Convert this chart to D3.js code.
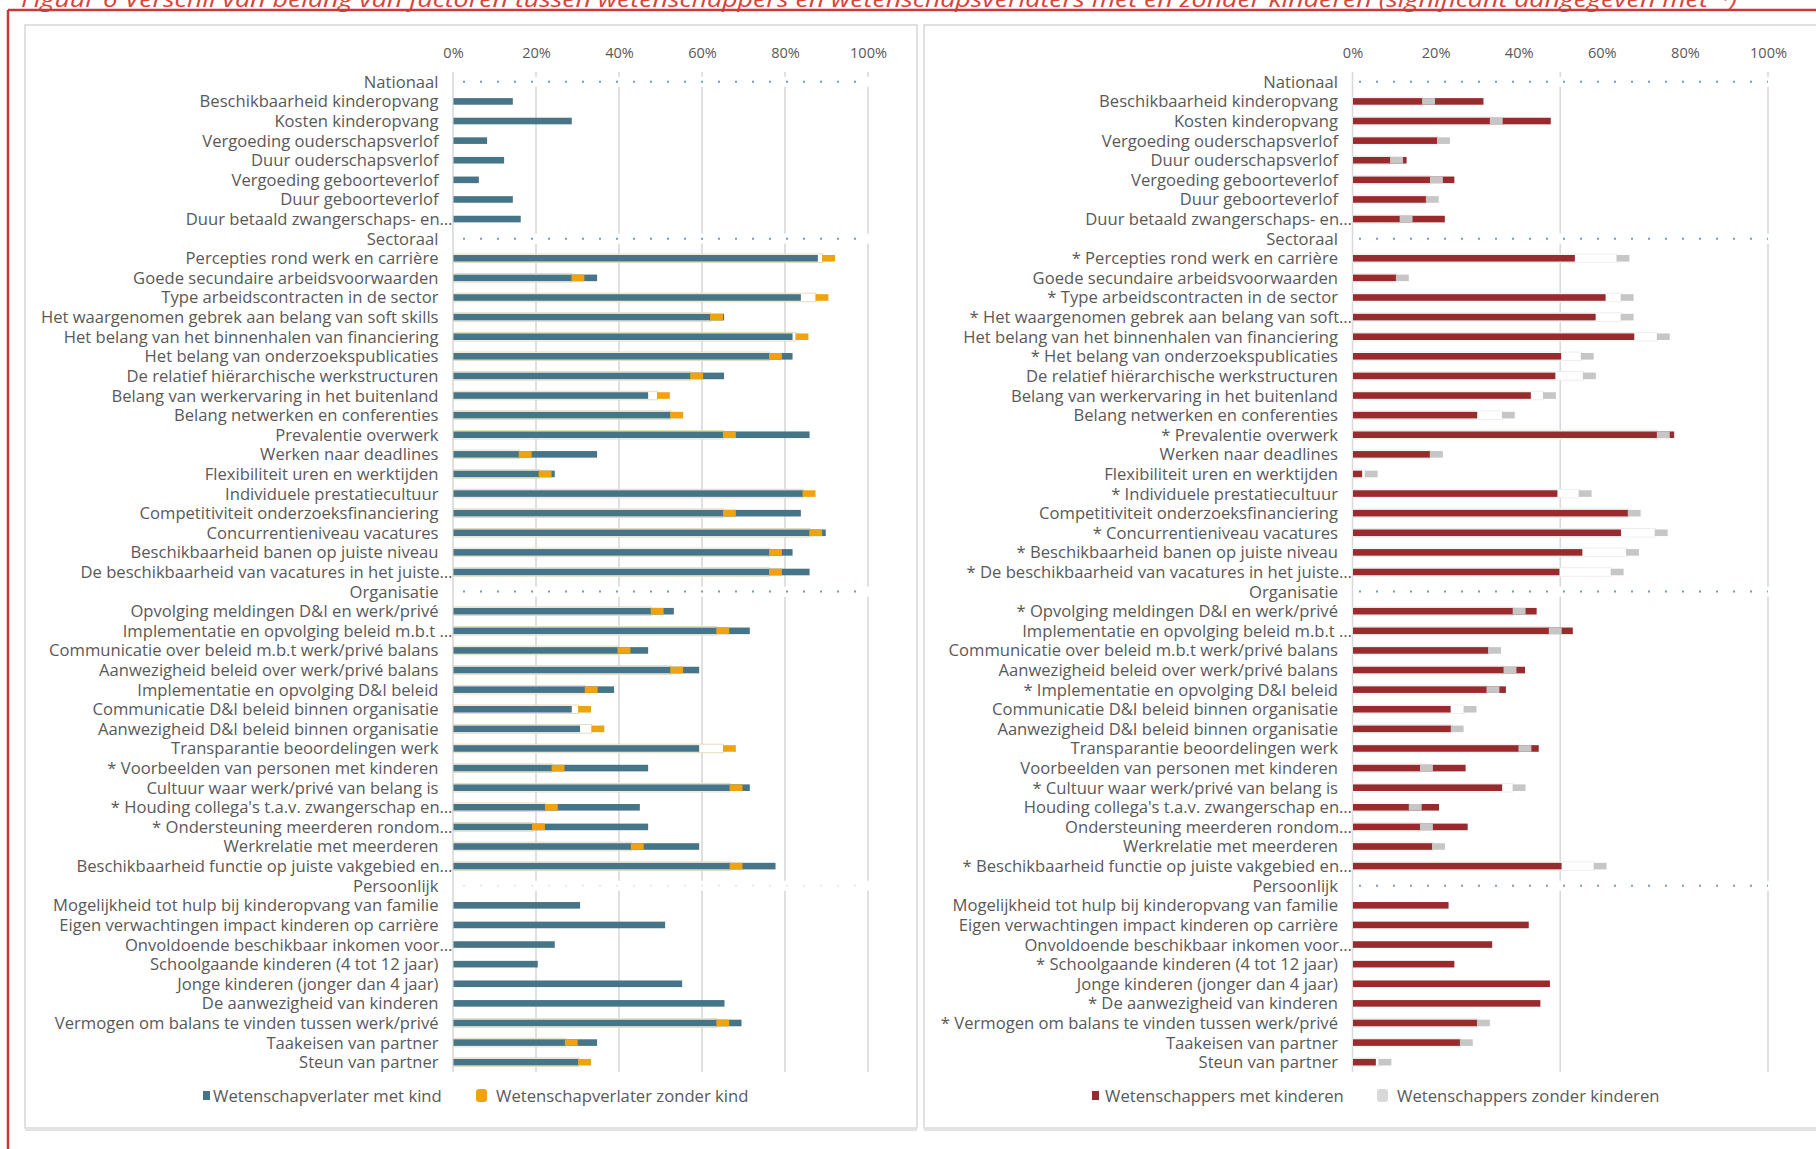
<!DOCTYPE html>
<html><head><meta charset="utf-8">
<script src="https://cdn.jsdelivr.net/npm/d3@7"></script>
<style>
body{margin:0;background:#fff;overflow:hidden}
svg{display:block}
text{font-family:"Open Sans","Noto Sans",sans-serif}
</style>
</head><body>
<svg id="c" width="1816" height="1149"></svg>
<script>
// ---------------- DATA ----------------
const titleText = "Figuur 6 Verschil van belang van factoren tussen wetenschappers en wetenschapsverlaters met en zonder kinderen (significant aangegeven met *)";
const headerRows = ["Nationaal","Sectoraal","Organisatie","Persoonlijk"];

const leftLabels = [
"Nationaal","Beschikbaarheid kinderopvang","Kosten kinderopvang","Vergoeding ouderschapsverlof","Duur ouderschapsverlof","Vergoeding geboorteverlof","Duur geboorteverlof","Duur betaald zwangerschaps- en…",
"Sectoraal","Percepties rond werk en carrière","Goede secundaire arbeidsvoorwaarden","Type arbeidscontracten in de sector","Het waargenomen gebrek aan belang van soft skills","Het belang van het binnenhalen van financiering","Het belang van onderzoekspublicaties","De relatief hiërarchische werkstructuren","Belang van werkervaring in het buitenland","Belang netwerken en conferenties","Prevalentie overwerk","Werken naar deadlines","Flexibiliteit uren en werktijden","Individuele prestatiecultuur","Competitiviteit onderzoeksfinanciering","Concurrentieniveau vacatures","Beschikbaarheid banen op juiste niveau","De beschikbaarheid van vacatures in het juiste…",
"Organisatie","Opvolging meldingen D&I en werk/privé","Implementatie en opvolging beleid m.b.t …","Communicatie over beleid m.b.t werk/privé balans","Aanwezigheid beleid over werk/privé balans","Implementatie en opvolging D&I beleid","Communicatie D&I beleid binnen organisatie","Aanwezigheid D&I beleid binnen organisatie","Transparantie beoordelingen werk","* Voorbeelden van personen met kinderen","Cultuur waar werk/privé van belang is","* Houding collega's t.a.v. zwangerschap en…","* Ondersteuning meerderen rondom…","Werkrelatie met meerderen","Beschikbaarheid functie op juiste vakgebied en…",
"Persoonlijk","Mogelijkheid tot hulp bij kinderopvang van familie","Eigen verwachtingen impact kinderen op carrière","Onvoldoende beschikbaar inkomen voor…","Schoolgaande kinderen (4 tot 12 jaar)","Jonge kinderen (jonger dan 4 jaar)","De aanwezigheid van kinderen","Vermogen om balans te vinden tussen werk/privé","Taakeisen van partner","Steun van partner"];

const rightLabels = [
"Nationaal","Beschikbaarheid kinderopvang","Kosten kinderopvang","Vergoeding ouderschapsverlof","Duur ouderschapsverlof","Vergoeding geboorteverlof","Duur geboorteverlof","Duur betaald zwangerschaps- en…",
"Sectoraal","* Percepties rond werk en carrière","Goede secundaire arbeidsvoorwaarden","* Type arbeidscontracten in de sector","* Het waargenomen gebrek aan belang van soft…","Het belang van het binnenhalen van financiering","* Het belang van onderzoekspublicaties","De relatief hiërarchische werkstructuren","Belang van werkervaring in het buitenland","Belang netwerken en conferenties","* Prevalentie overwerk","Werken naar deadlines","Flexibiliteit uren en werktijden","* Individuele prestatiecultuur","Competitiviteit onderzoeksfinanciering","* Concurrentieniveau vacatures","* Beschikbaarheid banen op juiste niveau","* De beschikbaarheid van vacatures in het juiste…",
"Organisatie","* Opvolging meldingen D&I en werk/privé","Implementatie en opvolging beleid m.b.t …","Communicatie over beleid m.b.t werk/privé balans","Aanwezigheid beleid over werk/privé balans","* Implementatie en opvolging D&I beleid","Communicatie D&I beleid binnen organisatie","Aanwezigheid D&I beleid binnen organisatie","Transparantie beoordelingen werk","Voorbeelden van personen met kinderen","* Cultuur waar werk/privé van belang is","Houding collega's t.a.v. zwangerschap en…","Ondersteuning meerderen rondom…","Werkrelatie met meerderen","* Beschikbaarheid functie op juiste vakgebied en…",
"Persoonlijk","Mogelijkheid tot hulp bij kinderopvang van familie","Eigen verwachtingen impact kinderen op carrière","Onvoldoende beschikbaar inkomen voor…","* Schoolgaande kinderen (4 tot 12 jaar)","Jonge kinderen (jonger dan 4 jaar)","* De aanwezigheid van kinderen","* Vermogen om balans te vinden tussen werk/privé","Taakeisen van partner","Steun van partner"];

// Wetenschapverlater met kind (%)
const leftMet = [null,14.3,28.5,8.1,12.2,6.1,14.3,16.2,
 null,87.8,34.6,83.7,65.2,81.7,81.7,65.2,46.9,52.3,85.8,34.6,24.4,84.2,83.7,89.7,81.7,85.8,
 null,53.1,71.4,46.9,59.2,38.7,28.5,30.5,59.2,46.9,71.4,44.9,46.9,59.2,77.6,
 null,30.5,51.0,24.4,20.3,55.1,65.3,69.4,34.6,30.1];
// Wetenschapverlater zonder kind (%)
const leftZonder = [null,null,null,null,null,null,null,null,
 null,90.5,30.1,88.9,63.5,84.1,77.7,58.7,50.7,53.9,66.6,17.4,22.2,85.8,66.6,87.4,77.7,77.7,
 null,49.2,65.0,41.2,53.9,33.3,31.7,34.9,66.6,25.3,68.2,23.7,20.6,44.4,68.2,
 null,null,null,null,null,null,null,65.0,28.5,31.7];
// Wetenschappers met kinderen (%)
const rightMet = [null,31.4,47.6,20.3,12.9,24.4,17.7,22.1,
 null,53.4,10.4,60.8,58.4,67.7,50.1,48.7,42.8,29.9,77.3,18.5,2.2,49.2,66.3,64.5,55.2,49.7,
 null,44.2,52.9,32.6,41.4,36.8,23.5,23.6,44.7,27.1,35.9,20.7,27.6,19.1,50.2,
 null,23.0,42.3,33.5,24.4,47.4,45.1,29.9,25.8,5.5];
// Wetenschappers zonder kinderen (%)
const rightZonder = [null,18.3,34.6,21.9,10.6,20.2,19.2,12.9,
 null,65.1,12.0,66.1,66.1,74.8,56.5,57.0,47.4,37.5,74.8,20.2,4.5,56.0,67.8,74.3,67.4,63.7,
 null,40.1,48.8,34.2,37.9,33.8,28.3,25.2,41.5,17.8,40.1,15.1,17.8,20.7,59.6,
 null,null,null,null,null,null,null,31.5,27.4,7.8];

const tickValues = [0,20,40,60,80,100];
const leftGridValues = [0,20,40,60,80,100];
const rightGridValues = [0,50,100];
const leftLegend = ["Wetenschapverlater met kind","Wetenschapverlater zonder kind"];
const rightLegend = ["Wetenschappers met kinderen","Wetenschappers zonder kinderen"];

// ---------------- DRAW ----------------
const svg = d3.select("#c");
const FONT = '"Open Sans","Noto Sans",sans-serif';
const textCol = "#595959";

function measure(str, size){
  const t = svg.append("text").attr("font-size",size).attr("font-family",FONT).text(str);
  const w = t.node().getComputedTextLength(); t.remove(); return w;
}
const labelSize = 16 * 253 / measure("Percepties rond werk en carrière", 16);
const legendSize = 16 * 229 / measure("Wetenschapverlater met kind", 16);
const tickSize = 16 * 37 / measure("100%", 16);

// title + red frame
const title = svg.append("text").attr("x",21).attr("y",6.5)
  .attr("fill","#d8433b").attr("font-style","italic").attr("font-size",21).text(titleText);
title.attr("textLength",1716).attr("lengthAdjust","spacingAndGlyphs");
svg.append("line").attr("x1",8).attr("x2",1816).attr("y1",10).attr("y2",10).attr("stroke","#c9393b").attr("stroke-width",2.5);
svg.append("line").attr("x1",8).attr("x2",8).attr("y1",10).attr("y2",1149).attr("stroke","#c9393b").attr("stroke-width",2.5);

const y = d3.scaleBand().domain(d3.range(leftLabels.length)).range([72,1072]);
const bw = y.bandwidth();
const barH = 6.6;
const markerHalf = 1.55;

function panel(o){
  const g = svg.append("g");
  // box
  g.append("rect").attr("x",o.boxX).attr("y",25).attr("width",o.boxW).attr("height",1103)
    .attr("fill","#fff").attr("stroke","#d6d6d6").attr("stroke-width",1.5);
  g.append("rect").attr("x",o.boxX).attr("y",1127).attr("width",o.boxW).attr("height",4).attr("fill","#e2e2e2");
  const x = d3.scaleLinear().domain([0,100]).range([o.x0,o.x1]);
  // gridlines
  g.selectAll(".grid").data(o.grid.filter(d=>d!==0)).join("line")
    .attr("x1",d=>x(d)).attr("x2",d=>x(d)).attr("y1",72).attr("y2",1072)
    .attr("stroke","#d9d9d9").attr("stroke-width",1.6);
  // header rows
  const hdr = o.labels.map((l,i)=>({l,i})).filter(d=>headerRows.includes(d.l));
  g.selectAll(".hw").data(hdr).join("rect")
    .attr("x",x(0)+1).attr("width",x(100)-x(0)+2)
    .attr("y",d=>y(d.i)+bw/2-5).attr("height",10).attr("fill","#fff");
  g.selectAll(".hd").data(hdr).join("line")
    .attr("x1",x(0)+o.dotStart).attr("x2",x(100)).attr("y1",d=>y(d.i)+bw/2).attr("y2",d=>y(d.i)+bw/2)
    .attr("stroke",d=>d.l==="Persoonlijk"?o.lastDot:"#6f9fbe").attr("stroke-width",2).attr("stroke-dasharray","2,15");
  // zero axis
  g.append("line").attr("x1",x(0)).attr("x2",x(0)).attr("y1",72).attr("y2",1072)
    .attr("stroke","#d9d9d9").attr("stroke-width",1.6);
  const rows = o.labels.map((l,i)=>({l,i,met:o.met[i],zon:o.zon[i]}));
  // ghost outline of the "zonder" series
  g.selectAll(".ghost").data(rows.filter(d=>d.zon!=null)).join("rect")
    .attr("x",x(0)+0.5).attr("width",d=>Math.max(0,x(d.zon-markerHalf)-x(0)))
    .attr("y",d=>y(d.i)+bw/2-barH/2-1).attr("height",barH+2)
    .attr("fill","#fff").attr("stroke",o.ghost).attr("stroke-width",0.9);
  // main bars
  g.selectAll(".bar").data(rows.filter(d=>d.met!=null)).join("rect")
    .attr("x",x(0)+0.5).attr("width",d=>x(d.met)-x(0))
    .attr("y",d=>y(d.i)+bw/2-barH/2).attr("height",barH).attr("fill",o.c1);
  // markers
  g.selectAll(".mk").data(rows.filter(d=>d.zon!=null)).join("rect")
    .attr("x",d=>x(d.zon-markerHalf)).attr("width",d=>x(d.zon+markerHalf)-x(d.zon-markerHalf))
    .attr("y",d=>y(d.i)+bw/2-barH/2).attr("height",barH).attr("fill",o.c2);
  // labels
  g.selectAll(".lb").data(rows).join("text")
    .attr("x",d=>d.l.endsWith("…")? x(0)-0.5 : x(0)-14.5)
    .attr("y",d=>y(d.i)+bw/2).attr("dy","0.36em")
    .attr("text-anchor","end").attr("font-size",labelSize).attr("fill",textCol).text(d=>d.l);
  // ticks
  const ax = g.append("g").attr("transform","translate(0,58)")
    .call(d3.axisTop(x).tickValues(tickValues).tickFormat(d=>d+"%").tickSize(0).tickPadding(0));
  ax.select(".domain").remove();
  ax.selectAll("text").attr("font-size",tickSize).attr("fill",textCol).attr("font-family",FONT).attr("dy","0");
  // legend
  const L = o.leg;
  g.append("rect").attr("x",L.s1).attr("y",1091).attr("width",7).attr("height",9).attr("fill",o.c1);
  g.append("text").attr("x",L.t1).attr("y",1095.5).attr("dy","0.36em").attr("font-size",legendSize).attr("fill",textCol).text(o.legend[0]);
  g.append("rect").attr("x",L.s2).attr("y",1089).attr("width",11).attr("height",13).attr("rx",3).attr("fill",o.c2leg);
  g.append("text").attr("x",L.t2).attr("y",1095.5).attr("dy","0.36em").attr("font-size",legendSize).attr("fill",textCol).text(o.legend[1]);
}

panel({boxX:25, boxW:892, x0:453, x1:868, labels:leftLabels, met:leftMet, zon:leftZonder,
  c1:"#477588", c2:"#f0a30f", c2leg:"#f0a30f", ghost:"#e3d7b8", grid:leftGridValues, dotStart:10, lastDot:"#e3ebf0",
  legend:leftLegend, leg:{s1:203,t1:213,s2:476,t2:496}});
panel({boxX:924, boxW:910, x0:1352.5, x1:1768, labels:rightLabels, met:rightMet, zon:rightZonder,
  c1:"#972b2e", c2:"#c6c6c6", c2leg:"#d9d9d9", ghost:"#ececec", grid:rightGridValues, dotStart:6.5, lastDot:"#7d9db3",
  legend:rightLegend, leg:{s1:1092,t1:1105,s2:1377,t2:1397}});
</script>
</body></html>
